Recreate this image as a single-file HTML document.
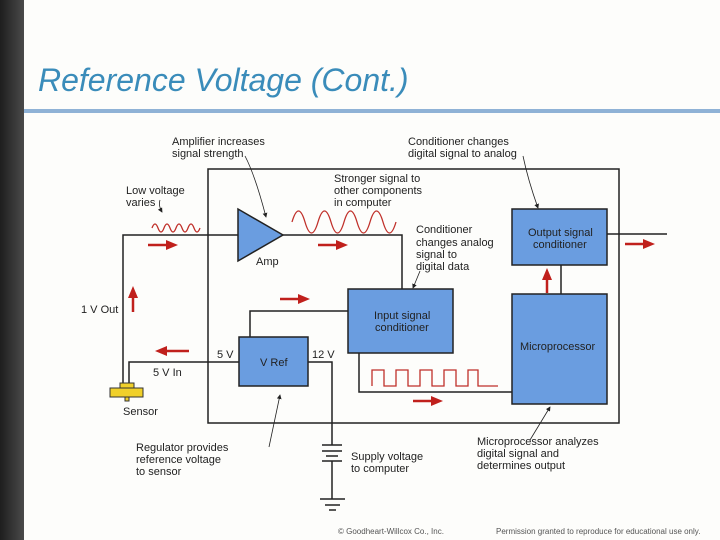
<!DOCTYPE html>
<html><head><style>
body{margin:0;width:720px;height:540px;overflow:hidden;background:#fdfdfb;font-family:"Liberation Sans",sans-serif;position:relative}
.strip{position:absolute;left:0;top:0;width:24px;height:540px;background:linear-gradient(90deg,#1e1e1e,#4a4a4a)}
.title{position:absolute;left:38px;top:62px;font-size:32px;font-style:italic;color:#3a8cba}
.rule{position:absolute;left:24px;top:109px;width:696px;height:4px;background:#8fb2d6}
.foot{position:absolute;top:527px;font-size:8px;color:#555}
</style></head><body>
<div class="strip"></div>
<div class="title">Reference Voltage (Cont.)</div>
<div class="rule"></div>
<svg width="720" height="540" style="position:absolute;left:0;top:0" font-family="Liberation Sans, sans-serif" font-size="11" fill="#222">
<defs><marker id="ah" markerWidth="6" markerHeight="6" refX="5" refY="3" orient="auto"><path d="M0,0 L6,3 L0,6z" fill="#222"/></marker></defs>
<g stroke="#222" stroke-width="1.5" fill="none">
<rect x="208" y="169" width="411" height="254"/>
<polyline points="238,235 123,235 123,384"/>
<polyline points="283,235 402,235 402,289"/>
<polyline points="250,337 250,311 348,311"/>
<polyline points="239,362 129,362 129,384"/>
<polyline points="308,362 332,362 332,445"/>
<polyline points="359,353 359,392 512,392"/>
<line x1="607" y1="234" x2="667" y2="234"/>
<line x1="561" y1="265" x2="561" y2="294"/>
<line x1="322" y1="445" x2="342" y2="445"/><line x1="322" y1="451" x2="342" y2="451"/>
<line x1="326" y1="456" x2="338" y2="456"/><line x1="322" y1="461" x2="342" y2="461"/>
<line x1="332" y1="461" x2="332" y2="499"/>
<line x1="320" y1="499" x2="345" y2="499"/><line x1="325" y1="505" x2="340" y2="505"/><line x1="329" y1="510" x2="336" y2="510"/>
</g>
<g fill="#6a9de0" stroke="#222" stroke-width="1.5">
<polygon points="238,209 238,261 283,235"/>
<rect x="348" y="289" width="105" height="64"/>
<rect x="239" y="337" width="69" height="49"/>
<rect x="512" y="209" width="95" height="56"/>
<rect x="512" y="294" width="95" height="110"/>
</g>
<g fill="#f0d02a" stroke="#333" stroke-width="1">
<rect x="120" y="383" width="14" height="5"/><rect x="110" y="388" width="33" height="9"/><rect x="125" y="397" width="4" height="4"/>
</g>
<g stroke="#c0302a" stroke-width="1.3" fill="none">
<path d="M152,228 q3,-8 6,0 t6,0 t6,0 t6,0 t6,0 t6,0 t6,0 t6,0"/>
<path d="M292,222 q6.5,-22 13,0 t13,0 t13,0 t13,0 t13,0 t13,0 t13,0 t13,0"/>
<polyline points="372,386 372,370 384,370 384,386 396,386 396,370 408,370 408,386 420,386 420,370 432,370 432,386 444,386 444,370 456,370 456,386 468,386 468,370 478,370 478,386 498,386"/>
</g>
<g fill="#c0201c" stroke="#c0201c" stroke-width="2.5">
<line x1="148" y1="245" x2="168" y2="245"/><path d="M166,240 L178,245 L166,250z" stroke="none"/>
<line x1="318" y1="245" x2="338" y2="245"/><path d="M336,240 L348,245 L336,250z" stroke="none"/>
<line x1="280" y1="299" x2="300" y2="299"/><path d="M298,294 L310,299 L298,304z" stroke="none"/>
<line x1="413" y1="401" x2="433" y2="401"/><path d="M431,396 L443,401 L431,406z" stroke="none"/>
<line x1="625" y1="244" x2="645" y2="244"/><path d="M643,239 L655,244 L643,249z" stroke="none"/>
<line x1="189" y1="351" x2="165" y2="351"/><path d="M167,346 L155,351 L167,356z" stroke="none"/>
<line x1="133" y1="312" x2="133" y2="296"/><path d="M128,298 L133,286 L138,298z" stroke="none"/>
<line x1="547" y1="293" x2="547" y2="278"/><path d="M542,280 L547,268 L552,280z" stroke="none"/>
</g>
<g stroke="#222" stroke-width="0.8" fill="none" marker-end="url(#ah)">
<path d="M245,156 Q255,175 266,217"/>
<path d="M523,156 Q528,180 538,208"/>
<path d="M160,200 Q158,205 162,212"/>
<path d="M420,271 L413,288"/>
<path d="M269,447 L280,395"/>
<path d="M530,440 L550,407"/>
</g>
<text x="172" y="145">Amplifier increases</text><text x="172" y="157">signal strength</text>
<text x="408" y="145">Conditioner changes</text><text x="408" y="157">digital signal to analog</text>
<text x="126" y="194">Low voltage</text><text x="126" y="206">varies</text>
<text x="334" y="182">Stronger signal to</text><text x="334" y="194">other components</text><text x="334" y="206">in computer</text>
<text x="416" y="233">Conditioner</text><text x="416" y="246">changes analog</text><text x="416" y="258">signal to</text><text x="416" y="270">digital data</text>
<text x="256" y="265">Amp</text>
<text x="81" y="313">1 V Out</text>
<text x="374" y="319">Input signal</text><text x="375" y="331">conditioner</text>
<text x="528" y="236">Output signal</text><text x="533" y="248">conditioner</text>
<text x="520" y="350">Microprocessor</text>
<text x="260" y="366">V Ref</text>
<text x="217" y="358">5 V</text><text x="312" y="358">12 V</text>
<text x="153" y="376">5 V In</text>
<text x="123" y="415">Sensor</text>
<text x="136" y="451">Regulator provides</text><text x="136" y="463">reference voltage</text><text x="136" y="475">to sensor</text>
<text x="351" y="460">Supply voltage</text><text x="351" y="472">to computer</text>
<text x="477" y="445">Microprocessor analyzes</text><text x="477" y="457">digital signal and</text><text x="477" y="469">determines output</text>
</svg>
<div class="foot" style="left:338px">© Goodheart-Willcox Co., Inc.</div>
<div class="foot" style="left:496px">Permission granted to reproduce for educational use only.</div>
</body></html>
